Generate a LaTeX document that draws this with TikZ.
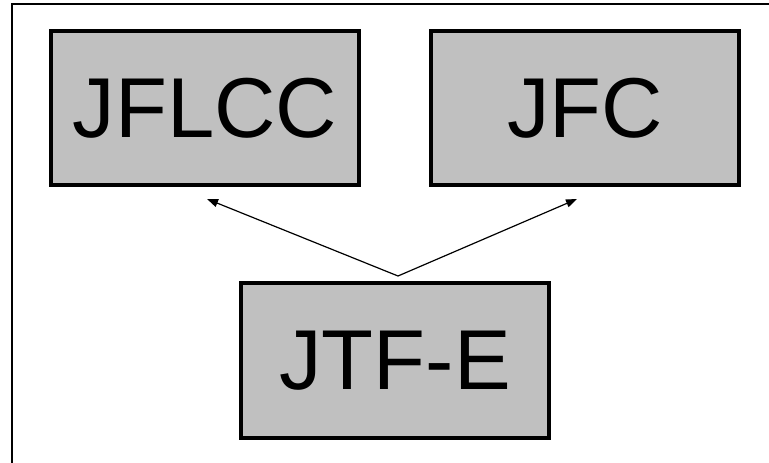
\documentclass[tikz,border=0pt]{standalone}
\usepackage{fontspec}
\setmainfont{Liberation Sans}
\usetikzlibrary{positioning, calc, arrows.meta}

\tikzset{
	unit/.style={draw=black, line width=4pt, fill={rgb,255:red,192;green,192;blue,192},
		minimum width=308pt, minimum height=154pt, outer sep=0pt, inner sep=0pt,
		font=\fontsize{85}{100}\selectfont},
	link/.style={line width=1.2pt, -{Triangle[length=11pt,width=8pt]}}
}

\begin{document}
\begin{tikzpicture}[x=1pt, y=-1pt]
	\useasboundingbox (0,0) rectangle (769,463);
	% frame
	\draw[line width=2.5pt] (12,463) -- (12,4) -- (769,4);
	
	\node[unit] (JFLCC) at (205,108) {JFLCC};
	\node[unit] (JFC) [right=72pt of JFLCC] {JFC};
	\node[unit, minimum height=155pt] (JTFE) at (395,360.5) {JTF-E};
	
	\coordinate (fork) at ($(JTFE.north)+(3,-7)$);
	\coordinate (toL) at ($(JFLCC.south)+(2,14)$);
	\coordinate (toR) at ($(JFC.south)+(-8,14)$);
	
	\draw[link] (fork) -- (toL);
	\draw[link] (fork) -- (toR);
\end{tikzpicture}
\end{document}
